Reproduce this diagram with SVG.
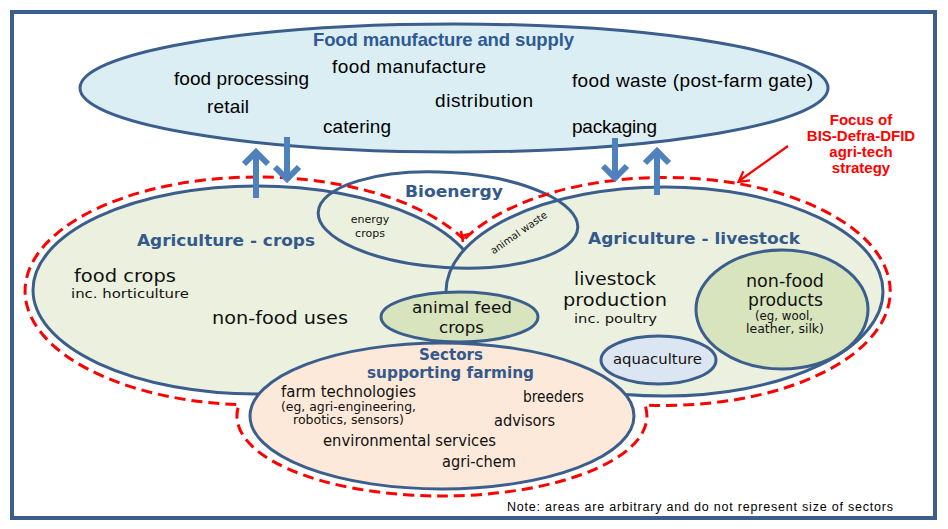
<svg xmlns="http://www.w3.org/2000/svg" width="948" height="529" viewBox="0 0 948 529">
<defs>
<style>
.ol{stroke:#3B5E8C;stroke-width:3}
.cal{font-family:"Liberation Sans",Arial,sans-serif;fill:#000}
.calb{font-family:"Liberation Sans",Arial,sans-serif;font-weight:bold}
.vd{font-family:"DejaVu Sans",Verdana,sans-serif;fill:#111}
.vdb{font-family:"DejaVu Sans",Verdana,sans-serif;font-weight:bold;fill:#34598C}
.red{font-family:"Liberation Sans",Arial,sans-serif;font-weight:bold;fill:#FF0000;font-size:15px;text-anchor:middle}
.bar{fill:none;stroke:#4F81BD;stroke-width:6}
.dash{fill:none;stroke:#FF0000;stroke-width:3;stroke-dasharray:11 6}
</style>
</defs>
<rect x="12" y="12" width="923" height="506" fill="#fff" stroke="#3B5E8C" stroke-width="4"/>

<g id="food-manufacture">
<ellipse cx="454" cy="88" rx="374" ry="64" fill="#DBEEF4" class="ol"/>
<text class="calb" x="313" y="46" font-size="18.5" fill="#2F5A93" textLength="261">Food manufacture and supply</text>
<text class="cal" x="332" y="73" font-size="19" textLength="154">food manufacture</text>
<text class="cal" x="174" y="85" font-size="19" textLength="135">food processing</text>
<text class="cal" x="572" y="87" font-size="19" textLength="241">food waste (post-farm gate)</text>
<text class="cal" x="207" y="113" font-size="19" textLength="42">retail</text>
<text class="cal" x="435" y="107" font-size="19" textLength="98">distribution</text>
<text class="cal" x="323" y="133" font-size="19" textLength="68">catering</text>
<text class="cal" x="572" y="133" font-size="19" textLength="85">packaging</text>
</g>

<g id="agriculture-crops">
<ellipse cx="257" cy="290" rx="224" ry="104" fill="#EBF1DE" class="ol"/>
<text class="vdb" x="137" y="246" font-size="16" textLength="178" lengthAdjust="spacingAndGlyphs">Agriculture - crops</text>
<text class="vd" x="74" y="282" font-size="18" textLength="102" lengthAdjust="spacingAndGlyphs">food crops</text>
<text class="vd" x="71" y="298" font-size="13" textLength="118" lengthAdjust="spacingAndGlyphs">inc. horticulture</text>
<text class="vd" x="212" y="324" font-size="18" textLength="136" lengthAdjust="spacingAndGlyphs">non-food uses</text>
</g>

<g id="agriculture-livestock">
<ellipse cx="664.5" cy="291.5" rx="218.5" ry="104.5" fill="#EBF1DE" class="ol"/>
<text class="vdb" x="588" y="244" font-size="16" textLength="212" lengthAdjust="spacingAndGlyphs">Agriculture - livestock</text>
<text class="vd" x="574" y="285" font-size="18" textLength="82" lengthAdjust="spacingAndGlyphs">livestock</text>
<text class="vd" x="563" y="306" font-size="18" textLength="104" lengthAdjust="spacingAndGlyphs">production</text>
<text class="vd" x="574" y="323" font-size="13" textLength="83" lengthAdjust="spacingAndGlyphs">inc. poultry</text>
</g>

<g id="bioenergy">
<ellipse cx="448" cy="220" rx="130" ry="47.5" fill="none" class="ol" transform="rotate(3.5 448 220)"/>
<text class="vdb" x="405" y="197" font-size="16" textLength="98" lengthAdjust="spacingAndGlyphs">Bioenergy</text>
<text class="vd" x="370" y="223" font-size="11" text-anchor="middle">energy</text>
<text class="vd" x="370" y="237" font-size="11" text-anchor="middle">crops</text>
<text class="vd" x="519" y="236" font-size="10" text-anchor="middle" transform="rotate(-35 519 233)">animal waste</text>
</g>

<g id="animal-feed-crops">
<ellipse cx="459.5" cy="317" rx="78.5" ry="25" fill="#D7E4BD" class="ol"/>
<text class="vd" x="412" y="313" font-size="16" textLength="100" lengthAdjust="spacingAndGlyphs">animal feed</text>
<text class="vd" x="439" y="333" font-size="16" textLength="45" lengthAdjust="spacingAndGlyphs">crops</text>
</g>

<g id="non-food-products">
<ellipse cx="782" cy="309.5" rx="86" ry="59.5" fill="#D7E4BD" class="ol"/>
<text class="vd" x="746" y="287" font-size="17" textLength="78" lengthAdjust="spacingAndGlyphs">non-food</text>
<text class="vd" x="748" y="306" font-size="17" textLength="75" lengthAdjust="spacingAndGlyphs">products</text>
<text class="vd" x="755" y="320" font-size="12" textLength="58" lengthAdjust="spacingAndGlyphs">(eg, wool,</text>
<text class="vd" x="746" y="333" font-size="12" textLength="78" lengthAdjust="spacingAndGlyphs">leather, silk)</text>
</g>

<g id="aquaculture">
<ellipse cx="658.5" cy="360" rx="57.5" ry="24" fill="#DCE6F2" class="ol"/>
<text class="vd" x="613" y="364" font-size="13.5" textLength="89" lengthAdjust="spacingAndGlyphs">aquaculture</text>
</g>

<g id="sectors-supporting-farming">
<ellipse cx="442" cy="416" rx="192" ry="73" fill="#FDE9D9" class="ol"/>
<text class="vdb" x="419" y="360" font-size="16" textLength="64" lengthAdjust="spacingAndGlyphs">Sectors</text>
<text class="vdb" x="367" y="378" font-size="16" textLength="167" lengthAdjust="spacingAndGlyphs">supporting farming</text>
<text class="vd" x="281" y="397" font-size="15" textLength="135" lengthAdjust="spacingAndGlyphs">farm technologies</text>
<text class="vd" x="281" y="411" font-size="12" textLength="135" lengthAdjust="spacingAndGlyphs">(eg, agri-engineering,</text>
<text class="vd" x="293" y="424" font-size="12" textLength="111" lengthAdjust="spacingAndGlyphs">robotics, sensors)</text>
<text class="vd" x="523" y="402" font-size="15" textLength="61" lengthAdjust="spacingAndGlyphs">breeders</text>
<text class="vd" x="494" y="426" font-size="15" textLength="61" lengthAdjust="spacingAndGlyphs">advisors</text>
<text class="vd" x="323" y="446" font-size="15" textLength="173" lengthAdjust="spacingAndGlyphs">environmental services</text>
<text class="vd" x="442" y="467" font-size="15" textLength="74" lengthAdjust="spacingAndGlyphs">agri-chem</text>
</g>

<g id="agri-tech-focus">
<path class="dash" d="M464,239.5 A232,114 0 1,0 239,404.7 A205,80 0 1,0 645,405 A225.5,114 0 1,0 464,239.5"/>
<path d="M461,231 L463,242 M462,236 L469,234" fill="none" stroke="#FF0000" stroke-width="2.5"/>
<text class="red" x="861" y="125">Focus of</text>
<text class="red" x="861" y="141">BIS-Defra-DFID</text>
<text class="red" x="861" y="157">agri-tech</text>
<text class="red" x="861" y="173">strategy</text>
</g>

<g id="note">
<text class="cal" x="507" y="511" font-size="12.5" fill="#111" textLength="386">Note: areas are arbitrary and do not represent size of sectors</text>
</g>

<g id="connectors">
<path class="bar" d="M256,198 V152 M244,164 L256,152 L268,164"/>
<path class="bar" d="M287,137 V179 M275,167 L287,179 L299,167"/>
<path class="bar" d="M615,138 V178 M603,166 L615,178 L627,166"/>
<path class="bar" d="M657,195 V151 M645,163 L657,151 L669,163"/>
<path d="M788,146 L739,181 M750,180.4 L738.5,181.8 L743.4,171.3" fill="none" stroke="#FF0000" stroke-width="2.2"/>
</g>
</svg>
